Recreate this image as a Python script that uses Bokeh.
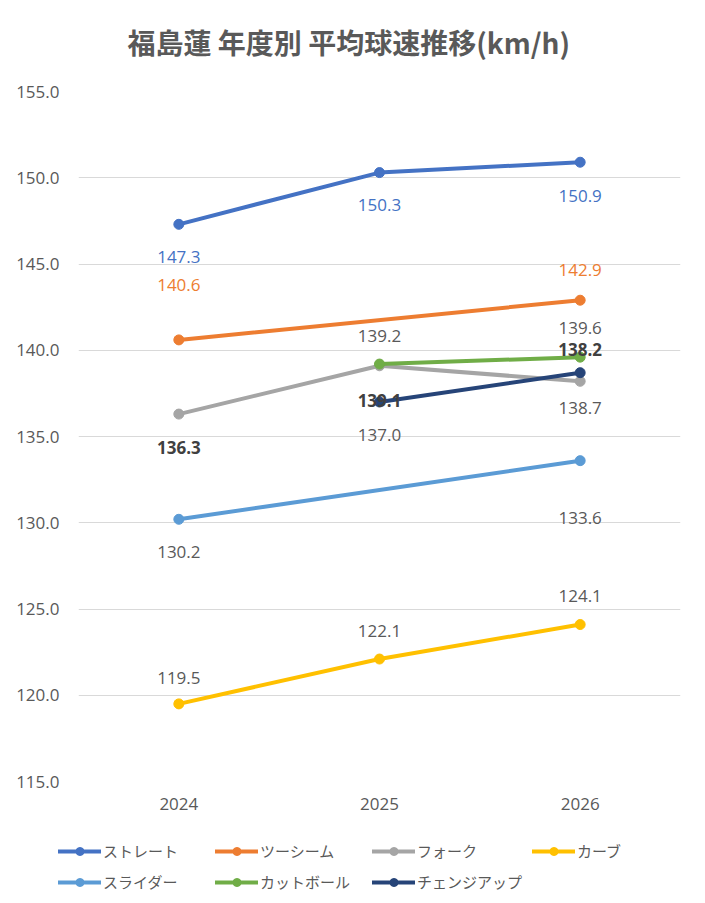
from bokeh.plotting import figure
from bokeh.layouts import column
from bokeh.models import (ColumnDataSource, Range1d, FactorRange, SingleIntervalTicker,
                          NumeralTickFormatter, Legend, LegendItem, Title)
from bokeh.core.properties import value
from bokeh.embed import file_html
from bokeh.resources import INLINE

# 年度別 平均球速 (km/h)
years = ["2024", "2025", "2026"]
pitch_names = ["ストレート", "ツーシーム", "フォーク", "カーブ", "スライダー", "カットボール", "チェンジアップ"]
straight = [147.3, 150.3, 150.9]
two_seam = [140.6, None, 142.9]
fork = [136.3, 139.1, 138.2]
curve = [119.5, 122.1, 124.1]
slider = [130.2, None, 133.6]
cutter = [None, 139.2, 139.6]
changeup = [None, 137.0, 138.7]

series = [straight, two_seam, fork, curve, slider, cutter, changeup]
colors = ["#4472C4", "#ED7D31", "#A5A5A5", "#FFC000", "#5B9BD5", "#70AD47", "#264478"]
label_colors = ["#4472C4", "#ED7D31", "#404040", "#595959", "#595959", "#595959", "#595959"]
label_styles = ["normal", "normal", "bold", "normal", "normal", "normal", "normal"]
# label offsets in pixels (+ = below the point), one per year
label_dy = [[33, 32, 34], [-55, 0, -30], [33, 35, -32], [-26, -28, -29],
            [33, 0, 57], [0, -28, -29], [0, 33, 35]]

FONT = "Open Sans"
TEXT = "#595959"

p = figure(frame_width=602, frame_height=690, output_backend="svg", toolbar_location=None,
           x_range=FactorRange(*years, range_padding=0), y_range=Range1d(115, 155),
           min_border_left=78, min_border_right=25, min_border_top=91, min_border_bottom=39)
p.outline_line_color = None
p.background_fill_color = "white"
p.border_fill_color = "white"

t = Title()
t.text = "福島蓮 年度別 平均球速推移(km/h)"
t.align = "left"
t.text_font = "Noto Sans CJK JP"
t.text_font_size = "28px"
t.text_font_style = "bold"
t.text_color = TEXT
t.offset = 49
t.standoff = 0
t.padding = (0, 0, 0, 30)
p.title = t

p.yaxis.ticker = SingleIntervalTicker(interval=5)
p.yaxis.formatter = NumeralTickFormatter(format="0.0")
p.ygrid.grid_line_color = "#D9D9D9"
p.ygrid.grid_line_width = 1
p.xgrid.grid_line_color = None
for ax in (p.xaxis, p.yaxis):
    ax.axis_line_color = None
    ax.major_tick_line_color = None
    ax.minor_tick_line_color = None
    ax.major_tick_out = 0
    ax.major_tick_in = 0
    ax.major_label_text_font = FONT
    ax.major_label_text_font_size = "17px"
    ax.major_label_text_color = TEXT
p.yaxis.major_label_standoff = 15
p.xaxis.major_label_standoff = 16

# legend strip under the chart (same series, y range keeps its marks out of view)
lp = figure(frame_width=705, frame_height=83, output_backend="svg", toolbar_location=None,
            x_range=FactorRange(*years, range_padding=0), y_range=Range1d(0, 1),
            x_axis_location=None, y_axis_location=None, min_border=0)
lp.outline_line_color = None
lp.grid.visible = False
lp.background_fill_color = "white"
lp.border_fill_color = "white"

items = []
label_sources = []
for name, vals, col, lcol, lsty, dys in zip(pitch_names, series, colors, label_colors, label_styles, label_dy):
    xs = [y for y, v in zip(years, vals) if v is not None]
    ys = [v for v in vals if v is not None]
    dy = [d for d, v in zip(dys, vals) if v is not None]
    src = ColumnDataSource(dict(x=xs, y=ys, label=["%.1f" % v for v in ys], dy=dy))
    p.line("x", "y", source=src, line_color=col, line_width=4, line_cap="round")
    p.scatter("x", "y", source=src, size=10, fill_color=col, line_color=col)
    r1 = lp.line("x", "y", source=src, line_color=col, line_width=4, line_cap="round")
    r2 = lp.scatter("x", "y", source=src, size=10, fill_color=col, line_color=col)
    items.append(LegendItem(label=name, renderers=[r1, r2]))
    label_sources.append((src, lcol, lsty))

for src, lcol, lsty in label_sources:
    p.text("x", "y", text="label", source=src, y_offset="dy", text_align="center",
           text_baseline="middle", text_font=value(FONT), text_font_size="17px",
           text_color=lcol, text_font_style=lsty)

legend = Legend(items=items, location=(58, 11), orientation="horizontal", ncols=4)
legend.background_fill_alpha = 0
legend.border_line_color = None
legend.padding = 0
legend.margin = 0
legend.spacing = 10
legend.glyph_width = 43
legend.glyph_height = 20
legend.label_standoff = 2
legend.label_width = 102
legend.label_text_font = "Noto Sans CJK JP"
legend.label_text_font_size = "15px"
legend.label_text_color = TEXT
lp.add_layout(legend)

layout = column(p, lp, spacing=0)
open("out.html", "w").write(file_html(layout, INLINE))
